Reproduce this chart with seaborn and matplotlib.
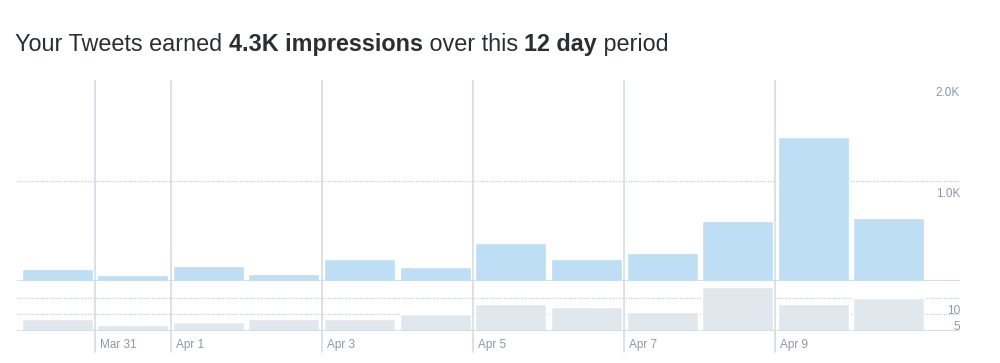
import matplotlib
matplotlib.use('Agg')
import matplotlib.pyplot as plt
import matplotlib.transforms as mtransforms
import seaborn as sns

# Data
days = ['Mar 30', 'Mar 31', 'Apr 1', 'Apr 2', 'Apr 3', 'Apr 4',
        'Apr 5', 'Apr 6', 'Apr 7', 'Apr 8', 'Apr 9', 'Apr 10']
impressions = [116, 60, 150, 72, 215, 136, 376, 218, 277, 597, 1430, 624]
engagements = [3.6, 1.8, 2.8, 3.7, 3.6, 5.1, 8.2, 7.1, 5.8, 13.1, 8.1, 9.9]
date_marks = ['Mar 31', 'Apr 1', 'Apr 3', 'Apr 5', 'Apr 7', 'Apr 9']
imp_ticks = [1000, 2000]
imp_tick_labels = ['1.0K', '2.0K']
eng_ticks = [5, 10]
eng_tick_labels = ['5', '10']
title_parts = [('Your Tweets earned ', 'normal'), ('4.3K impressions', 'bold'),
               (' over this ', 'normal'), ('12 day', 'bold'), (' period', 'normal')]

sns.set_theme(style='white')
plt.rcParams['font.family'] = ['Liberation Sans', 'DejaVu Sans']

blue = '#bddef5'
gray_bar = '#e1e8ed'
line_col = '#d3dce3'
grid_col = '#c2ccd4'
label_col = '#8a9aa7'
title_col = '#2a2f33'

fig = plt.figure(figsize=(10, 3.63), dpi=100)
ax_top = fig.add_axes([0.017, 0.2259, 0.943, 0.5537])
ax_bot = fig.add_axes([0.017, 0.0882, 0.943, 0.1377])

sns.barplot(x=days, y=impressions, color=blue, saturation=1, width=0.94, ax=ax_top, zorder=2)
sns.barplot(x=days, y=engagements, color=gray_bar, saturation=1, width=0.94, ax=ax_bot, zorder=2)

xlim = (-0.53, 11.94)
for ax in (ax_top, ax_bot):
    ax.set_xlim(*xlim)
    ax.set_xticks([])
    ax.set_yticks([])
    ax.set_xlabel('')
    ax.set_ylabel('')
    for s in ax.spines.values():
        s.set_visible(False)
    ax.patch.set_alpha(0)
    ax.axhline(0, color=line_col, lw=1.3, zorder=3)

ax_top.set_ylim(0, 2000)
ax_bot.set_ylim(0, 15)

# dotted gridlines + labels under them (no line drawn at the top edge)
def add_grid(ax, ticks, labels, top):
    trans = mtransforms.blended_transform_factory(ax.transAxes, ax.transData)
    trans = mtransforms.offset_copy(trans, fig=fig, x=0, y=-13, units='dots')
    for t, lab in zip(ticks, labels):
        if t < top:
            ax.axhline(t, color=grid_col, lw=0.8, ls=(0, (1, 1.2)), zorder=1)
        ax.text(1.0, t, lab, transform=trans, ha='right', va='center',
                fontsize=8.5, color=label_col)

add_grid(ax_top, imp_ticks, imp_tick_labels, 2000)
add_grid(ax_bot, eng_ticks, eng_tick_labels, 15)

# day separators with date labels
for lab in date_marks:
    x = days.index(lab) - 0.5
    ax_top.axvline(x, color=line_col, lw=1.2, zorder=1)
    ax_bot.axvline(x, ymin=-0.42, ymax=1, color=line_col, lw=1.2, zorder=1, clip_on=False)
    trans = mtransforms.blended_transform_factory(ax_bot.transData, ax_bot.transAxes)
    trans = mtransforms.offset_copy(trans, fig=fig, x=5, y=0, units='dots')
    ax_bot.text(x, -0.28, lab, transform=trans, ha='left', va='center',
                fontsize=8.5, color=label_col)

# title with mixed weights
renderer = fig.canvas.get_renderer()
xpos = 15 / 1000
for txt, weight in title_parts:
    t = fig.text(xpos, 1 - 51 / 363, txt, fontsize=16.8, fontweight=weight,
                 color=title_col, va='baseline', ha='left')
    bb = t.get_window_extent(renderer=renderer)
    xpos += bb.width / fig.bbox.width

plt.savefig('out.png', dpi=100)
plt.close()
